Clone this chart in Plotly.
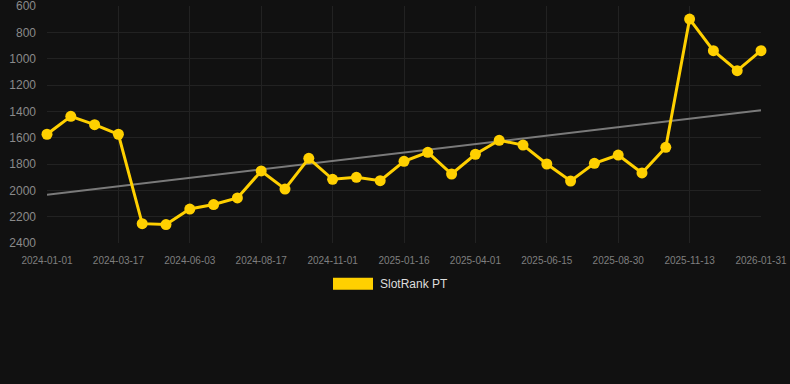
import numpy as np
import plotly.graph_objects as go

dates = [
    "2024-01-01", "2024-01-26", "2024-02-21", "2024-03-17", "2024-04-12", "2024-05-08",
    "2024-06-03", "2024-06-28", "2024-07-23", "2024-08-17", "2024-09-11", "2024-10-07",
    "2024-11-01", "2024-11-26", "2024-12-22", "2025-01-16", "2025-02-10", "2025-03-07",
    "2025-04-01", "2025-04-26", "2025-05-21", "2025-06-15", "2025-07-10", "2025-08-05",
    "2025-08-30", "2025-09-24", "2025-10-19", "2025-11-13", "2025-12-09", "2026-01-05",
    "2026-01-31",
]
rank_pt = [
    1574, 1438, 1501, 1574, 2253, 2260, 2142, 2108, 2058, 1853, 1990, 1757,
    1916, 1901, 1927, 1780, 1711, 1876, 1726, 1620, 1656, 1800, 1929, 1795,
    1732, 1868, 1673, 699, 939, 1091, 939,
]
x_tick_labels = dates[::3]
y_tick_values = [600, 800, 1000, 1200, 1400, 1600, 1800, 2000, 2200, 2400]
series_name = "SlotRank PT"

# linear trend fitted on the series
idx = np.arange(len(rank_pt))
slope, intercept = np.polyfit(idx, rank_pt, 1)
trend = slope * idx + intercept

YELLOW = "#FFD000"
BG = "#111111"
FONT = "Arial, Liberation Sans, sans-serif"

fig = go.Figure()
fig.add_trace(go.Scatter(
    x=[dates[0], dates[-1]], y=[trend[0], trend[-1]],
    mode="lines", line=dict(color="#7a7a7a", width=2),
    hoverinfo="skip", showlegend=False, cliponaxis=False,
))
fig.add_trace(go.Scatter(
    x=dates, y=rank_pt, name=series_name,
    mode="lines+markers",
    line=dict(color=YELLOW, width=3),
    marker=dict(color=YELLOW, size=11),
    showlegend=False, cliponaxis=False,
))

# legend drawn as a swatch + label
fig.add_shape(type="rect", xref="paper", yref="paper",
              x0=(333 - 47) / 714, x1=(373 - 47) / 714,
              y0=-(289.5 - 242.7) / 237.0,
              y1=-(277.5 - 242.7) / 237.0,
              fillcolor=YELLOW, line=dict(width=0))
fig.add_annotation(text=series_name, xref="paper", yref="paper",
                   x=(378 - 47) / 714, y=-(283.5 - 242.7) / 237.0,
                   xanchor="left", yanchor="middle", showarrow=False,
                   font=dict(family=FONT, size=12, color="#dddddd"))

fig.update_layout(
    width=790, height=384,
    paper_bgcolor=BG, plot_bgcolor=BG,
    margin=dict(l=47, r=29, t=5.7, b=141.3),
    font=dict(family=FONT, color="#888888"),
    showlegend=False,
)
fig.update_xaxes(
    type="category", categoryorder="array", categoryarray=dates,
    range=[0, len(dates) - 1],
    tickvals=x_tick_labels, ticktext=x_tick_labels,
    tickfont=dict(size=10, color="#7f7f7f"),
    showgrid=True, gridcolor="#222222", gridwidth=1,
    zeroline=False, showline=False, ticks="",
    ticklabeloverflow="allow", automargin=False, ticklabelstandoff=10,
)
fig.update_yaxes(
    range=[2400, 600], tickvals=y_tick_values,
    tickfont=dict(size=12, color="#8a8a8a"),
    showgrid=True, gridcolor="#222222", gridwidth=1,
    zeroline=False, showline=False, ticks="",
    ticklabelstandoff=10, ticklabeloverflow="allow", automargin=False,
)

fig.write_html(
    "out.html",
    config={"displayModeBar": False},
    post_script="document.body.style.margin='0';document.body.style.background='#111111';",
)
